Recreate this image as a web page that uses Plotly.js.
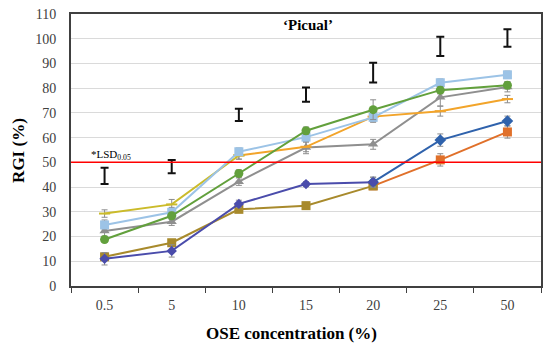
<!DOCTYPE html>
<html>
<head>
<meta charset="utf-8">
<script src="https://cdn.plot.ly/plotly-3.0.1.min.js"></script>
<style>html,body{margin:0;padding:0;background:#fff;}#chart{width:550px;height:349px;}</style>
</head>
<body>
<div id="chart"></div>
<script>
// Categories (OSE concentration, %)
var categories = ['0.5', '5', '10', '15', '20', '25', '50'];

// Series values (RGI %) and their error bars
var blueDiamond = [11, 14.2, 33.2, 41.2, 42, 59, 66.7];
var blueDiamondErr = [2.5, 2.5, 1.5, 1, 2, 2.5, 2];
var orangeSquare = [11.8, 17.5, 31, 32.5, 40.5, 51, 62.3];
var orangeSquareErr = [1.5, 1, 1, 0.5, 1.5, 2.5, 2.5];
var grayTriangle = [22.2, 26, 42.2, 56, 57.3, 76.3, 80.5];
var grayTriangleErr = [2, 1.5, 1.5, 2.5, 2, 3.5, 2];
var yellowDash = [29.3, 33, 52.8, 56.3, 68.5, 70.7, 75.6];
var yellowDashErr = [1.5, 2, 1.5, 2, 2, 2, 1.5];
var lightBlueSquare = [24.7, 29.8, 54.3, 60.2, 68.2, 82.2, 85.4];
var lightBlueSquareErr = [2, 2, 1.5, 2, 2, 1.5, 1.5];
var greenCircle = [18.8, 28.4, 45.5, 62.8, 71.3, 79.2, 81.2];
var greenCircleErr = [1, 1.5, 1.5, 1.5, 4, 1.5, 1.5];

// LSD (0.05) bars at each concentration: centre and half-width
var lsdCenter = [44.5, 48.3, 69.2, 77.4, 86.3, 96.9, 100.3];
var lsdHalf = [3.3, 2.7, 2.5, 2.9, 4, 3.9, 3.5];

// Reference line value
var refLine = 50;

var errStyle = function (arr) {
  return {type: 'data', array: arr, visible: true, color: '#8c8c8c', thickness: 1, width: 3};
};

function seg(vals, errs, a, b, color, symbol, msize, extraMarker) {
  var m = {symbol: symbol, size: msize, color: color};
  if (extraMarker) { for (var k in extraMarker) m[k] = extraMarker[k]; }
  return {
    x: categories.slice(a, b + 1),
    y: vals.slice(a, b + 1),
    error_y: errStyle(errs.slice(a, b + 1)),
    type: 'scatter', mode: 'lines+markers',
    line: {color: color, width: 2},
    marker: m,
    showlegend: false, hoverinfo: 'skip', cliponaxis: false
  };
}

var traces = [];
traces.push(seg(grayTriangle, grayTriangleErr, 0, 6, '#8f8f8f', 'triangle-up', 9));
traces.push(seg(orangeSquare, orangeSquareErr, 4, 6, '#e0702a', 'square', 9));
traces.push(seg(orangeSquare, orangeSquareErr, 0, 4, '#a88a2c', 'square', 9));
traces.push(seg(blueDiamond, blueDiamondErr, 4, 6, '#2f62ac', 'diamond', 9));
traces.push(seg(blueDiamond, blueDiamondErr, 0, 4, '#4a4cab', 'diamond', 8));
traces.push(seg(yellowDash, yellowDashErr, 2, 6, '#f2a42a', 'line-ew', 8, {line: {color: '#f2a42a', width: 2}}));
traces.push(seg(yellowDash, yellowDashErr, 0, 2, '#cbbb2a', 'line-ew', 8, {line: {color: '#cbbb2a', width: 2}}));
traces.push(seg(lightBlueSquare, lightBlueSquareErr, 0, 6, '#9cc3e6', 'square', 9));
traces.push(seg(greenCircle, greenCircleErr, 0, 6, '#62a03c', 'circle', 9));

// LSD bars
traces.push({
  x: categories, y: lsdCenter, type: 'scatter', mode: 'markers',
  marker: {size: 1, color: 'rgba(0,0,0,0)'},
  error_y: {type: 'data', array: lsdHalf, visible: true, color: '#111', thickness: 2, width: 4},
  showlegend: false, hoverinfo: 'skip'
});

var serif = 'Liberation Serif, Times New Roman, serif';

var layout = {
  width: 550, height: 349,
  margin: {l: 71, r: 9, t: 14, b: 63},
  paper_bgcolor: '#fff', plot_bgcolor: '#fff',
  font: {family: serif, size: 14, color: '#404040'},
  xaxis: {
    type: 'category', categoryorder: 'array', categoryarray: categories,
    range: [-0.5, 6.5], tickson: 'boundaries',
    ticks: 'outside', ticklen: 5, tickcolor: '#404040', tickwidth: 1,
    showgrid: false, showline: true, linecolor: '#404040', linewidth: 2, mirror: true,
    tickfont: {family: serif, size: 14, color: '#404040'},
    ticklabelstandoff: 5,
    zeroline: false
  },
  yaxis: {
    range: [0, 110], dtick: 10, tick0: 0,
    showgrid: true, gridcolor: '#dadada', gridwidth: 1,
    showline: true, linecolor: '#404040', linewidth: 2, mirror: true,
    ticks: '', ticklabelstandoff: 10,
    tickfont: {family: serif, size: 14, color: '#404040'},
    zeroline: false
  },
  shapes: [{
    type: 'line', xref: 'paper', x0: 0, x1: 1, yref: 'y', y0: refLine, y1: refLine,
    line: {color: '#ff0000', width: 1.5}
  }],
  annotations: [
    {text: '\u2018Picual\u2019', xref: 'paper', yref: 'paper', x: 0.505, y: 0.96, showarrow: false,
     font: {family: serif, size: 15, color: '#000', weight: 'bold'}, xanchor: 'center', yanchor: 'middle'},
    {text: '*LSD<sub>0.05</sub>', xref: 'x', yref: 'y', x: 0, y: refLine + 3, showarrow: false,
     font: {family: serif, size: 11, color: '#000'}, xanchor: 'center', yanchor: 'middle', xshift: 6},
    {text: 'OSE concentration (%)', xref: 'paper', yref: 'paper', x: 0.47, y: -0.175, showarrow: false,
     font: {family: serif, size: 17, color: '#000', weight: 'bold'}, xanchor: 'center', yanchor: 'middle'},
    {text: 'RGI (%)', xref: 'paper', yref: 'paper', x: -0.113, y: 0.5, showarrow: false, textangle: -90,
     font: {family: serif, size: 17, color: '#000', weight: 'bold'}, xanchor: 'center', yanchor: 'middle'}
  ]
};

Plotly.newPlot('chart', traces, layout, {staticPlot: true, displayModeBar: false});
</script>
</body>
</html>
